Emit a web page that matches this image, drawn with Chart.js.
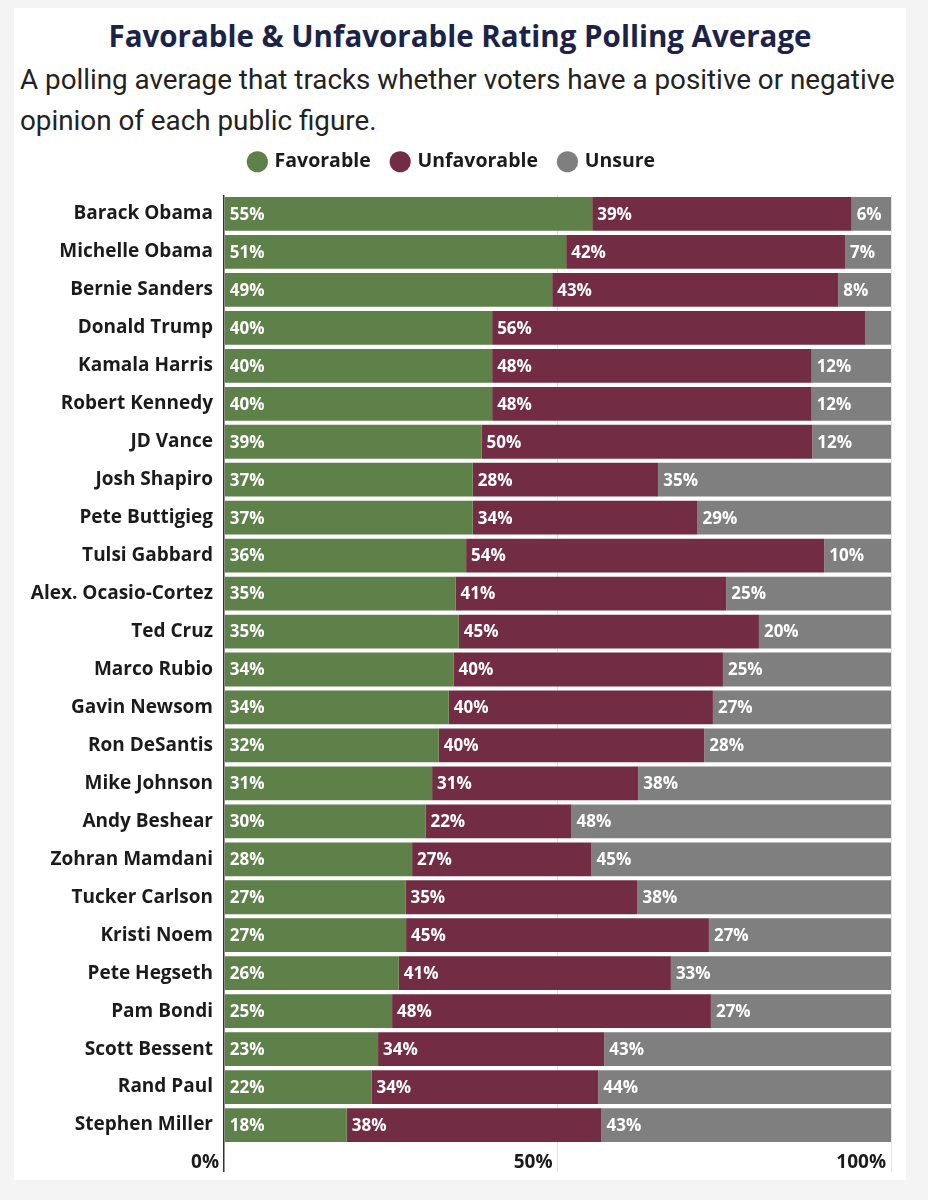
<!DOCTYPE html>
<html>
<head>
<meta charset="utf-8">
<title>Favorable & Unfavorable Rating Polling Average</title>
<script src="https://cdn.jsdelivr.net/npm/chart.js@4.4.1/dist/chart.umd.min.js"></script>
<style>
  html, body { margin: 0; padding: 0; background: #f4f4f4; }
  #card { position: absolute; left: 14px; top: 8px; width: 892px; height: 1172px; background: #fff; }
  #card h1 {
    position: absolute; left: 0; top: 10px; width: 892px; margin: 0;
    text-align: center; font: 700 29.5px/36px 'Open Sans', sans-serif; color: #1c2348;
  }
  #card p {
    position: absolute; left: 6px; top: 51px; margin: 0; white-space: nowrap;
    font: 400 27.8px/41px Roboto, sans-serif; color: #222;
  }
  #wrap { position: absolute; left: 0; top: 122px; width: 892px; height: 1050px; }
</style>
</head>
<body>
<div id="card">
  <h1>Favorable &amp; Unfavorable Rating Polling Average</h1>
  <p>A polling average that tracks whether voters have a positive or negative<br>opinion of each public figure.</p>
  <div id="wrap"><canvas id="pollChart"></canvas></div>
</div>

<script>
// ── Data (percent of respondents) ──────────────────────
const NAMES = [
  'Barack Obama', 'Michelle Obama', 'Bernie Sanders', 'Donald Trump', 'Kamala Harris',
  'Robert Kennedy', 'JD Vance', 'Josh Shapiro', 'Pete Buttigieg', 'Tulsi Gabbard',
  'Alex. Ocasio-Cortez', 'Ted Cruz', 'Marco Rubio', 'Gavin Newsom', 'Ron DeSantis',
  'Mike Johnson', 'Andy Beshear', 'Zohran Mamdani', 'Tucker Carlson', 'Kristi Noem',
  'Pete Hegseth', 'Pam Bondi', 'Scott Bessent', 'Rand Paul', 'Stephen Miller',
];
const FAVORABLE = [
  55.2, 51.3, 49.2, 40.2, 40.2, 40.2, 38.6, 37.3, 37.3, 36.3, 34.7, 35.2, 34.4,
  33.7, 32.2, 31.2, 30.2, 28.2, 27.2, 27.3, 26.2, 25.2, 23.1, 22.1, 18.4,
];
const UNFAVORABLE = [
  38.9, 41.8, 42.9, 55.9, 47.9, 47.9, 49.6, 27.8, 33.7, 53.7, 40.6, 45.0, 40.4,
  39.6, 39.8, 30.9, 21.9, 26.9, 34.8, 45.4, 40.8, 47.8, 33.9, 34.0, 38.2,
];
const UNSURE = [
  5.9, 6.9, 7.9, 3.9, 11.9, 11.9, 11.8, 34.9, 29.0, 10.0, 24.7, 19.8, 25.2,
  26.7, 28.0, 37.9, 47.9, 44.9, 38.0, 27.3, 33.0, 27.0, 43.0, 43.9, 43.4,
];
const X_TICKS = [0, 50, 100];

const COLORS = {
  favorable:   '#5e8049',
  unfavorable: '#722d45',
  unsure:      '#7f7f7f',
  text:        '#1b1b1b',
};
const FONT = "'Open Sans', 'Noto Sans', sans-serif";

// White % labels at the start of each segment
const barLabels = {
  id: 'barLabels',
  afterDatasetsDraw(chart) {
    const { ctx } = chart;
    ctx.save();
    ctx.font = `700 17px ${FONT}`;
    ctx.fillStyle = '#fff';
    ctx.textAlign = 'left';
    ctx.textBaseline = 'middle';
    chart.data.datasets.forEach((ds, i) => {
      chart.getDatasetMeta(i).data.forEach((bar, j) => {
        const v = ds.data[j];
        if (v < 5) return;
        ctx.fillText(Math.round(v) + '%', Math.min(bar.base, bar.x) + 5, bar.y + 1);
      });
    });
    ctx.restore();
  },
};

// Extra room between legend and bars
const legendGap = {
  id: 'legendGap',
  beforeInit(chart) {
    const fit = chart.legend.fit;
    chart.legend.fit = function () {
      fit.bind(chart.legend)();
      this.height += 13.5;
    };
  },
};

new Chart(document.getElementById('pollChart'), {
  type: 'bar',
  data: {
    labels: NAMES,
    datasets: [
      { label: 'Favorable',   data: FAVORABLE,   backgroundColor: COLORS.favorable },
      { label: 'Unfavorable', data: UNFAVORABLE, backgroundColor: COLORS.unfavorable },
      { label: 'Unsure',      data: UNSURE,      backgroundColor: COLORS.unsure },
    ],
  },
  options: {
    indexAxis: 'y',
    responsive: true, maintainAspectRatio: false,
    animation: false,
    datasets: { bar: { barPercentage: 0.89, categoryPercentage: 1, borderWidth: 0 } },
    layout: { padding: { right: 15 } },
    plugins: {
      legend: {
        position: 'top',
        labels: {
          usePointStyle: true, pointStyle: 'circle',
          boxWidth: 15, boxHeight: 15, padding: 22,
          font: { family: FONT, size: 19.5, weight: '700' },
          color: COLORS.text,
        },
      },
      tooltip: { enabled: false },
    },
    scales: {
      x: {
        stacked: true, min: 0, max: 100,
        afterBuildTicks: s => { s.ticks = X_TICKS.map(v => ({ value: v })); },
        ticks: {
          callback: v => v + '% ', align: 'end', padding: -21,
          font: { family: FONT, size: 19, weight: '700' }, color: COLORS.text,
        },
        grid: {
          color: c => c.tick && c.tick.value === 0 ? '#333' : '#e4e4e4',
          lineWidth: c => c.tick && c.tick.value === 0 ? 1.5 : 1,
          tickLength: 28,
        },
        border: { display: false },
        afterFit: s => { s.height = 36; },
      },
      y: {
        stacked: true,
        grid: { display: false, drawTicks: false },
        border: { display: false },
        ticks: {
          autoSkip: false, padding: 11,
          font: { family: FONT, size: 19, weight: '700' }, color: COLORS.text,
        },
        afterFit: s => { s.width = 210; },
      },
    },
  },
  plugins: [barLabels, legendGap],
});
</script>
</body>
</html>
